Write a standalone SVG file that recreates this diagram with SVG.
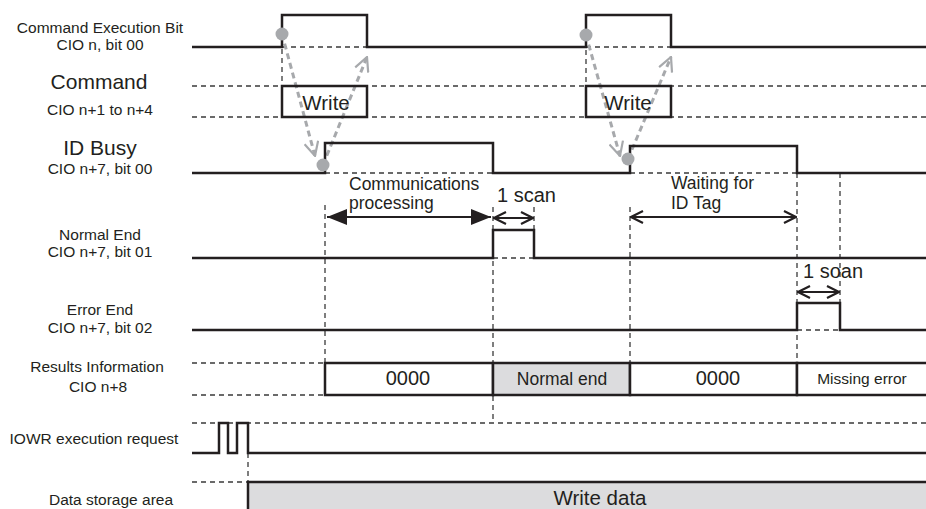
<svg xmlns="http://www.w3.org/2000/svg" width="926" height="509" viewBox="0 0 926 509">
<style>
text{font-family:"Liberation Sans",Arial,sans-serif;fill:#231f20}
.lbl{font-size:15.5px;text-anchor:middle}
.big{font-size:21px;text-anchor:middle}
.sig{fill:none;stroke:#231f20;stroke-width:2.5;stroke-linejoin:miter}
.box{fill:#fff;stroke:#231f20;stroke-width:2.5}
.gbox{fill:#dcdcde;stroke:#231f20;stroke-width:2.5}
.dash{fill:none;stroke:#3a3a3a;stroke-width:1.3;stroke-dasharray:5,4}
.gray{fill:none;stroke:#a7a9ac;stroke-width:3;stroke-dasharray:6,4}
.dot{fill:#a7a9ac}
.dim{fill:none;stroke:#231f20;stroke-width:2.2}
.note{font-size:17.5px}
</style>
<defs>
<marker id="gchev" viewBox="0 0 16 16" refX="15" refY="8" markerWidth="16" markerHeight="16" markerUnits="userSpaceOnUse" orient="auto">
<path d="M1,1 L15,8 L1,15" fill="none" stroke="#a7a9ac" stroke-width="2.2"/>
</marker>
<marker id="open" viewBox="0 0 14 14" refX="13" refY="7" markerWidth="14" markerHeight="14" markerUnits="userSpaceOnUse" orient="auto-start-reverse">
<path d="M1,1 L13,7 L1,13" fill="none" stroke="#231f20" stroke-width="2.2"/>
</marker>
<marker id="fill" viewBox="0 0 20 18" refX="20" refY="9" markerWidth="20" markerHeight="18" markerUnits="userSpaceOnUse" orient="auto-start-reverse">
<path d="M0,1 L20,9 L0,17 Z" fill="#231f20"/>
</marker>
</defs>

<g id="connectors">
<path class="dash" d="M282,47 H367 M586,47 H671"/>
<path class="dash" d="M192,86 H926 M192,117 H926"/>
<path class="dash" d="M325,173 H493 M630,173 H797"/>
<path class="dash" d="M493,258 H534"/>
<path class="dash" d="M797,330 H840"/>
<path class="dash" d="M192,363 H325 M192,395 H325"/>
<path class="dash" d="M192,423 H926"/>
<path class="dash" d="M192,482 H248"/>
<path class="dash" d="M282,40 V86 M586,41 V86"/>
<path class="dash" d="M325,205 V363 M493,207 V423 M534,207 V230 M630,207 V363 M797,173 V363 M840,173 V303 M248,453 V482"/>
<path class="gray" d="M282,34 L315,156" marker-end="url(#gchev)"/>
<path class="gray" d="M323,165 L367,57" marker-end="url(#gchev)"/>
<path class="gray" d="M586,35 L620,156" marker-end="url(#gchev)"/>
<path class="gray" d="M628,159 L671,57" marker-end="url(#gchev)"/>
<path class="dim" d="M327,217 H491" marker-start="url(#fill)" marker-end="url(#fill)"/>
<path class="dim" d="M494,218 H533" marker-start="url(#open)" marker-end="url(#open)"/>
<path class="dim" d="M631,217 H796" marker-start="url(#open)" marker-end="url(#open)"/>
<path class="dim" d="M798,292 H839" marker-start="url(#open)" marker-end="url(#open)"/>
</g>

<g id="cmd-exec-bit">
<text class="lbl" x="100" y="33">Command Execution Bit</text>
<text class="lbl" x="100" y="50">CIO n, bit 00</text>
<path class="sig" d="M192,47 H282 V15 H367 V47 H586 V15 H671 V47 H926"/>
<circle class="dot" cx="282" cy="34" r="6.5"/>
<circle class="dot" cx="586" cy="35" r="6.5"/>
</g>

<g id="command">
<text class="big" x="99" y="89">Command</text>
<text class="lbl" x="100" y="115">CIO n+1 to n+4</text>
<rect x="282" y="86" width="85" height="31" fill="none" stroke="#231f20" stroke-width="2.5"/>
<rect x="586" y="86" width="85" height="31" fill="none" stroke="#231f20" stroke-width="2.5"/>
<text x="326" y="110" font-size="20.5" text-anchor="middle">Write</text>
<text x="628" y="110" font-size="20.5" text-anchor="middle">Write</text>
</g>

<g id="id-busy">
<text class="big" x="100" y="155">ID Busy</text>
<text class="lbl" x="100" y="174">CIO n+7, bit 00</text>
<path class="sig" d="M192,173 H325 V143 H493 V173 H630 V146 H797 V173 H926"/>
<circle class="dot" cx="323" cy="165" r="6.5"/>
<circle class="dot" cx="628" cy="159" r="6.5"/>
<text class="note" x="349" y="190">Communications</text>
<text class="note" x="349" y="209">processing</text>
<text x="497" y="202" font-size="20">1 scan</text>
<text class="note" x="671" y="189">Waiting for</text>
<text class="note" x="671" y="209">ID Tag</text>
</g>

<g id="normal-end">
<text class="lbl" x="100" y="240">Normal End</text>
<text class="lbl" x="100" y="257">CIO n+7, bit 01</text>
<path class="sig" d="M192,258 H493 V230 H534 V258 H926"/>
</g>

<g id="error-end">
<text class="lbl" x="100" y="315">Error End</text>
<text class="lbl" x="100" y="333">CIO n+7, bit 02</text>
<path class="sig" d="M192,330 H797 V303 H840 V330 H926"/>
<text x="803" y="278" font-size="20">1 soan</text>
</g>

<g id="results">
<text class="lbl" x="97" y="372">Results Information</text>
<text class="lbl" x="98" y="392">CIO n+8</text>
<rect class="box" x="325" y="363" width="168" height="32"/>
<rect class="gbox" x="493" y="363" width="137" height="32"/>
<rect class="box" x="630" y="363" width="167" height="32"/>
<rect class="box" x="797" y="363" width="135" height="32"/>
<text x="408" y="385" font-size="20" text-anchor="middle">0000</text>
<text x="562" y="385" font-size="17.5" text-anchor="middle">Normal end</text>
<text x="718" y="385" font-size="20" text-anchor="middle">0000</text>
<text x="862" y="384" font-size="15.5" text-anchor="middle">Missing error</text>
</g>

<g id="iowr">
<text class="lbl" x="94" y="444">IOWR execution request</text>
<path class="sig" d="M192,453 H219 V423 H228 V453 H237 V423 H248 V453 H926"/>
</g>

<g id="data-storage">
<text class="lbl" x="111" y="505">Data storage area</text>
<rect class="gbox" x="248" y="482" width="690" height="40"/>
<text x="600" y="505" font-size="20.5" text-anchor="middle">Write data</text>
</g>
</svg>
